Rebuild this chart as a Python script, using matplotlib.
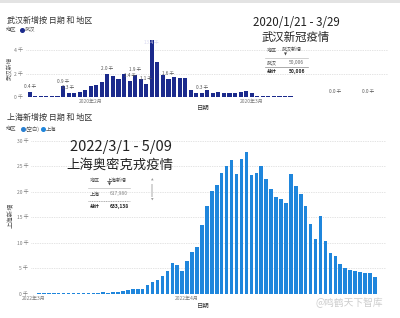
import matplotlib
matplotlib.use("Agg")
import matplotlib.pyplot as plt
from matplotlib.patches import Rectangle

plt.rcParams['font.family'] = ['Noto Sans CJK SC', 'DejaVu Sans']

W, H = 400, 318

# ---------------- data ----------------
# Wuhan daily new cases (thousand), 2020/1/21 onward
wuhan_new = [0.40, 0.06, 0.07, 0.08, 0.05, 0.08, 0.89, 0.32, 0.36, 0.38,
             0.58, 0.89, 1.03, 1.24, 1.97, 1.77, 1.50, 1.99, 1.38, 1.92,
             1.55, 1.10, 13.44, 3.00, 1.92, 1.55, 1.69, 1.60, 1.66, 0.62,
             0.32, 0.31, 0.54, 0.35, 0.40, 0.35, 0.35, 0.35, 0.40, 0.52,
             0.30, 0.10, 0.07, 0.06, 0.05, 0.03, 0.02, 0.02, 0.01, 0.01,
             0.01, 0.00, 0.00, 0.00, 0.00, 0.00, 0.00, 0.00, 0.00, 0.00,
             0.00, 0.00, 0.00, 0.00, 0.00, 0.00, 0.00, 0.00, 0.00]
wuhan_label_idx = [0, 6, 7, 14, 18, 19, 21, 22, 25, 31, 55, 61]
wuhan_month_idx = [11, 40]
wuhan_month_labels = ["2020年2月", "2020年3月"]
wuhan_yticks = [0, 2, 4]

# Shanghai daily new cases (thousand), 2022/3/1 onward
shanghai_new = [0.00, 0.01, 0.02, 0.02, 0.03, 0.05, 0.06, 0.07, 0.08, 0.08,
                0.08, 0.07, 0.17, 0.14, 0.20, 0.16, 0.26, 0.37, 0.51, 0.76,
                0.90, 0.98, 0.98, 1.60, 2.25, 2.65, 3.45, 4.45, 5.95, 5.65,
                4.50, 6.30, 8.20, 9.05, 13.40, 17.10, 20.10, 21.30, 23.70, 25.00,
                26.20, 23.50, 26.40, 27.80, 23.30, 23.60, 25.00, 22.40, 20.50, 19.00,
                18.60, 17.70, 23.40, 21.10, 19.60, 17.10, 13.60, 10.70, 15.20, 10.30,
                8.00, 7.35, 5.70, 5.05, 4.70, 4.40, 4.30, 4.10, 4.10, 3.20]
shanghai_month_idx = [0, 31]
shanghai_month_labels = ["2022年3月", "2022年4月"]
shanghai_yticks = [0, 5, 10, 15, 20, 25, 30]

# ---------------- style ----------------
NAVY = "#1b2a8c"
BLUE = "#1f86dc"
GRID = "#c9c9c9"
TICK = "#7a7a7a"
DARK = "#333333"

fig = plt.figure(figsize=(W / 100, H / 100), dpi=100)
fig.patch.set_facecolor("white")


def fx(x):
    return x / W


def fy(y):
    return 1 - y / H


def ptext(x, y, s, **kw):
    kw.setdefault("ha", "left")
    kw.setdefault("va", "center")
    fig.text(fx(x), fy(y), s, **kw)


def pline(x0, x1, y, **kw):
    fig.add_artist(plt.Line2D([fx(x0), fx(x1)], [fy(y), fy(y)],
                              transform=fig.transFigure, **kw))


# top grey border of screenshot
fig.add_artist(Rectangle((0, fy(2.5)), 1, 2.5 / H, transform=fig.transFigure,
                         color="#e3e3e3", lw=0))


def make_axes(left, right, top, bottom):
    ax = fig.add_axes([fx(left), fy(bottom), (right - left) / W, (bottom - top) / H])
    for s in ax.spines.values():
        s.set_visible(False)
    ax.set_facecolor("none")
    ax.tick_params(length=0, labelsize=3.6, colors=TICK, pad=2)
    return ax


# ---------------- top chart (Wuhan) ----------------
ax1 = make_axes(26, 388, 39.5, 96.7)
x1 = list(range(len(wuhan_new)))
ax1.bar(x1, wuhan_new, width=0.74, color=NAVY, zorder=2)
ax1.set_xlim(-0.67, 64.56)
ax1.set_ylim(0, 4.95)
ax1.set_yticks(wuhan_yticks)
ax1.set_yticklabels([f"{v} 千" for v in wuhan_yticks])
for v in wuhan_yticks:
    ax1.axhline(v, color=GRID, lw=0.5, ls=(0, (1, 1.5)), zorder=1)
ax1.set_xticks(wuhan_month_idx)
ax1.set_xticklabels(wuhan_month_labels)
ax1.tick_params(axis="x", pad=1.5)
ytop = ax1.get_ylim()[1]
for i in wuhan_label_idx:
    v = wuhan_new[i]
    if v > ytop:
        ax1.text(i, ytop - 0.25, f"{v:.1f} 千", ha="center", va="center",
                 fontsize=3.4, color="#d8d8f0", zorder=3)
    else:
        ax1.text(i, v + 0.45, f"{v:.1f} 千", ha="center", va="center",
                 fontsize=3.4, color="#555555", zorder=3)

ptext(7, 20, "武汉新增按 日期 和 地区", fontsize=5.8, color=DARK)
ptext(6, 30, "地区", fontsize=3.8, color="#555555")
fig.add_artist(plt.Line2D([fx(22)], [fy(30)], marker="o", ms=2.6, color=NAVY,
                          transform=fig.transFigure))
ptext(25, 30, "武汉", fontsize=3.8, color="#555555")
ptext(9, 68, "武汉新增", fontsize=4.2, color="#555555", rotation=90, ha="center")
ptext(203, 108, "日期", fontsize=4.6, color=DARK, ha="center")

# top overlay text and table
ptext(296, 23, "2020/1/21 - 3/29", fontsize=8.3, color="#222222", ha="center")
ptext(296, 37.5, "武汉新冠疫情", fontsize=8.2, color="#222222", ha="center")
ptext(267, 50, "地区", fontsize=3.6, color="#444444")
ptext(282, 50, "武汉新增", fontsize=3.6, color="#444444")
ptext(285, 55, "▼", fontsize=2.8, color="#444444", ha="center", family="DejaVu Sans")
pline(265, 308, 58, color="#bdbdbd", lw=0.5)
ptext(267, 62.5, "武汉", fontsize=3.6, color="#444444")
ptext(304, 62.5, "50,006", fontsize=3.6, color="#666666", ha="right")
pline(265, 308, 66.5, color="#888888", lw=0.5)
ptext(267, 71, "总计", fontsize=3.6, color="#222222", weight="bold")
ptext(305, 71, "50,006", fontsize=3.6, color="#222222", ha="right", weight="bold")

# ---------------- bottom chart (Shanghai) ----------------
ax2 = make_axes(31, 386, 139, 293.5)
x2 = list(range(len(shanghai_new)))
ax2.bar(x2, shanghai_new, width=0.72, color=BLUE, zorder=2)
ax2.set_xlim(-0.61, 71.26)
ax2.set_ylim(0, 30.3)
ax2.set_yticks(shanghai_yticks)
ax2.set_yticklabels([f"{v} 千" for v in shanghai_yticks])
for v in shanghai_yticks:
    ax2.axhline(v, color=GRID, lw=0.5, ls=(0, (1, 1.5)), zorder=1)
ax2.set_xticks(shanghai_month_idx)
ax2.set_xticklabels(shanghai_month_labels)
ax2.tick_params(axis="x", pad=1.5)

ptext(7, 117, "上海新增按 日期 和 地区", fontsize=5.8, color=DARK)
ptext(6, 129, "地区", fontsize=3.8, color="#555555")
fig.add_artist(plt.Line2D([fx(23)], [fy(129)], marker="o", ms=2.6, color="#2a7fd0",
                          transform=fig.transFigure))
ptext(25.5, 129, "(空白)", fontsize=3.8, color="#555555")
fig.add_artist(plt.Line2D([fx(43)], [fy(129)], marker="o", ms=2.6, color=BLUE,
                          transform=fig.transFigure))
ptext(46, 129, "上海", fontsize=3.8, color="#555555")
ptext(11, 215, "上海新增", fontsize=4.6, color="#555555", rotation=90, ha="center")
ptext(203, 306, "日期", fontsize=4.6, color=DARK, ha="center")

# bottom overlay text and table
ptext(120.5, 147.5, "2022/3/1 - 5/09", fontsize=10.5, color="#222222", ha="center")
ptext(120, 165, "上海奥密克戎疫情", fontsize=9.6, color="#222222", ha="center")
ptext(90, 180, "地区", fontsize=3.6, color="#444444")
ptext(107, 180, "上海新增", fontsize=3.6, color="#444444")
ptext(109, 184.5, "▼", fontsize=2.8, color="#444444", ha="center", family="DejaVu Sans")
pline(88, 130, 187.5, color="#bdbdbd", lw=0.5)
ptext(90, 194, "上海", fontsize=3.6, color="#444444")
ptext(128, 194, "617,980", fontsize=3.6, color="#888888", ha="right")
pline(88, 130, 200.5, color="#888888", lw=0.5, ls=(0, (1.5, 1)))
ptext(90, 206.7, "总计", fontsize=3.6, color="#222222", weight="bold")
ptext(129, 206.7, "633,138", fontsize=3.6, color="#222222", ha="right", weight="bold")
ptext(152, 180, "▲", fontsize=2.4, color="#999999", ha="center", family="DejaVu Sans")
fig.add_artist(Rectangle((fx(151.3), fy(197)), 1.4 / W, 13 / H, transform=fig.transFigure,
                         color="#d5d5d5", lw=0))
ptext(152, 200, "▼", fontsize=2.4, color="#999999", ha="center", family="DejaVu Sans")

# watermark
ptext(316, 303, "@鸣鹤天下智库", fontsize=7, color="#c8c8c8", alpha=0.9)

fig.savefig("out.png", dpi=100, facecolor="white")
